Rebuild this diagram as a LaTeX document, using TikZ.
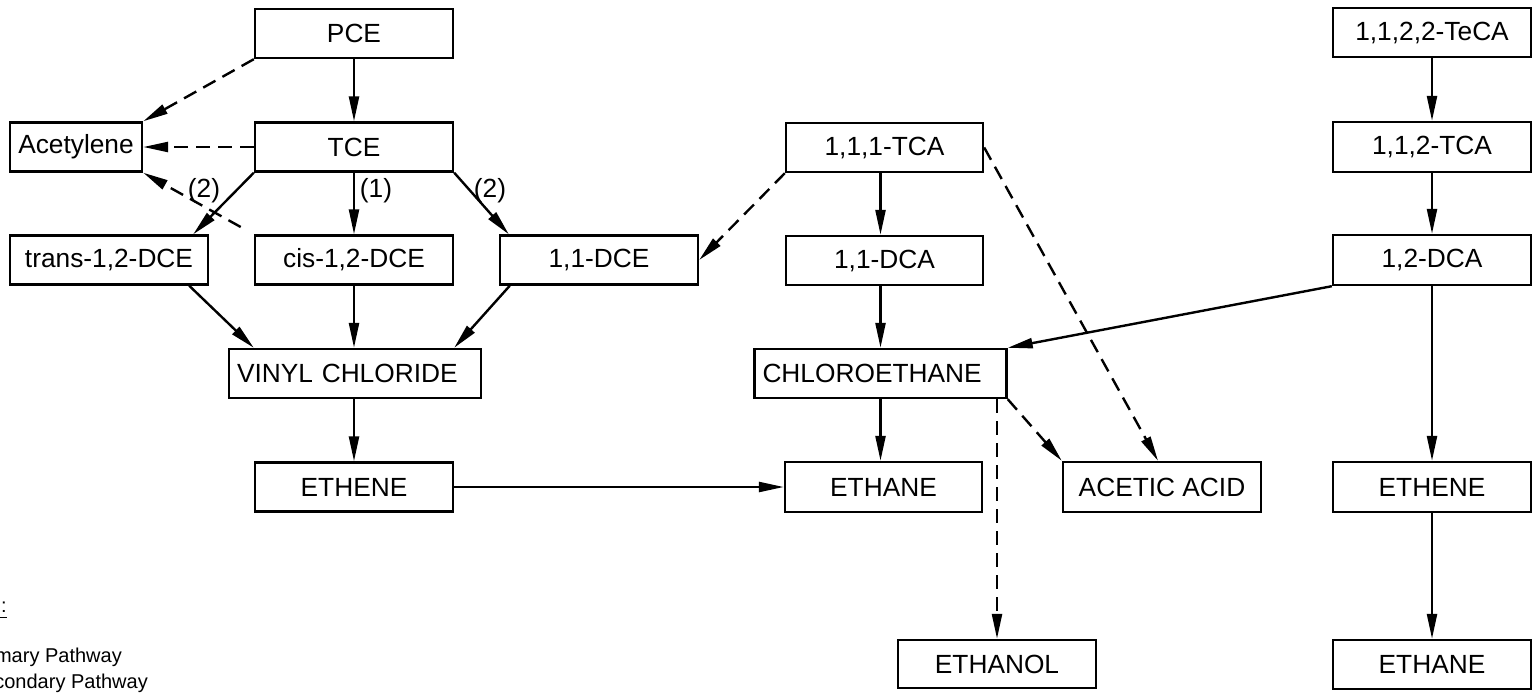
\documentclass[tikz,border=0pt]{standalone}
\usepackage{fontspec}
\setmainfont{Liberation Sans}
\usetikzlibrary{arrows.meta,calc}
\begin{document}
\begin{tikzpicture}[x=1pt,y=-1pt,
  box/.style={draw,line width=2.4pt,minimum width=198pt,minimum height=49pt,inner sep=0pt,font=\fontsize{26.3}{30}\selectfont},
  wbox/.style={box,minimum width=252pt,text width=236pt,align=left,inner xsep=8pt},
  arr/.style={line width=2.4pt,-{Triangle[length=25pt,width=10pt]}},
  dsh/.style={arr,dash pattern=on 14pt off 8pt},
  lbl/.style={font=\fontsize{26.3}{30}\selectfont,inner sep=0pt},
  leg/.style={font=\fontsize{20}{24}\selectfont,inner sep=0pt,anchor=base east}]
\useasboundingbox (0,0) rectangle (1533,694);
% left group
\node[box] (pce) at (354,33.5) {PCE};
\node[box,minimum width=132pt] (acet) at (76,147) {Acetylene};
\node[box] (tce) at (354,147) {TCE};
\node[box] (trans) at (109,260) {trans-1,2-DCE};
\node[box] (cis) at (354,260) {cis-1,2-DCE};
\node[box] (dce) at (599,260) {1,1-DCE};
\node[wbox] (vc) at (355,373.5) {VINYL CHLORIDE};
\node[box] (ethene) at (354,487) {ETHENE};
% middle group
\node[box,minimum width=197pt] (tca) at (884.5,147.5) {1,1,1-TCA};
\node[box,minimum width=197pt] (dca) at (884.5,260.5) {1,1-DCA};
\node[wbox,minimum width=251pt] (chloro) at (880.5,373.5) {CHLOROETHANE};
\node[box,minimum width=197pt,minimum height=50pt] (ethane) at (883.5,487) {ETHANE};
\node[box,minimum height=50pt] (acetic) at (1162,487) {ACETIC ACID};
\node[box,minimum height=48pt] (ethanol) at (997,664) {ETHANOL};
% right group
\node[box] (teca) at (1432,32.5) {1,1,2,2-TeCA};
\node[box,minimum height=50pt] (tcb) at (1432,147) {1,1,2-TCA};
\node[box,minimum height=50pt] (dcb) at (1432,260) {1,2-DCA};
\node[box,minimum height=50pt] (etheneR) at (1432,487) {ETHENE};
\node[box] (ethaneR) at (1432,664.5) {ETHANE};
% labels
\node[lbl] (l1) at (376,191) {(1)};
\node[lbl] (l2) at (204,191) {(2)};
\node[lbl] (l3) at (490,191) {(2)};
% legend (cut off at left edge)
\node[leg] (legt) at (7,612) {\underline{Legend:}};
\node[leg] (leg1) at (122,662) {Primary Pathway};
\node[leg] (leg2) at (148,688) {Secondary Pathway};
% connectors left
\draw[arr] (pce) -- (tce);
\draw[dsh] (pce.south west) -- (acet.north east);
\draw[dsh] (tce.west) -- (acet.east);
\draw[dsh,shorten <=15pt] (cis.north west) -- (acet.south east);
\draw[arr] (tce.south west) -- ($(trans.north east)+(-16,0)$);
\draw[arr] (tce) -- (cis);
\draw[arr] (tce.south east) -- ($(dce.north west)+(10,0)$);
\draw[arr] ($(trans.south east)+(-20,0)$) -- ($(vc.north west)+(26,0)$);
\draw[arr] (cis.south) -- (cis.south |- vc.north);
\draw[arr] ($(dce.south west)+(11,0)$) -- ($(vc.north east)+(-28,0)$);
\draw[arr] (vc.south -| ethene) -- (ethene.north);
\draw[arr] (ethene.east) -- (ethane.west |- ethene.east);
% connectors middle
\draw[arr] (tca.south -| chloro) -- (dca.north -| chloro);
\draw[arr] (dca.south -| chloro) -- (chloro.north);
\draw[arr] (chloro.south) -- (ethane.north -| chloro);
\draw[dsh] (tca.south west) -- (dce.east);
\draw[dsh] (tca.east) -- ($(acetic.north)+(-4,0)$);
\draw[dsh] (chloro.south east) -- (acetic.north west);
\draw[dsh] (ethanol.north |- chloro.south) -- (ethanol.north);
% connectors right
\draw[arr] (teca) -- (tcb);
\draw[arr] (tcb) -- (dcb);
\draw[arr] (dcb) -- (etheneR);
\draw[arr] (etheneR) -- (ethaneR);
\draw[arr] (dcb.south west) -- (chloro.north east);
\end{tikzpicture}
\end{document}
